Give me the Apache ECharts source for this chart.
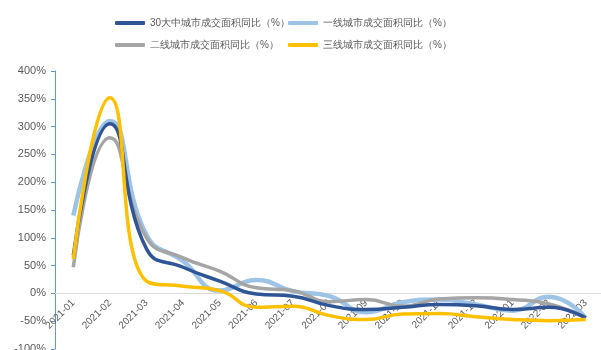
<!DOCTYPE html>
<html>
<head>
<meta charset="utf-8">
<script src="https://cdn.jsdelivr.net/npm/echarts@6/dist/echarts.min.js"></script>
<style>
  html, body { margin: 0; padding: 0; background: #fff; }
  #chart { width: 601px; height: 350px; }
</style>
</head>
<body>
<div id="chart"></div>
<script>
// categories (month)
const months = ['2021-01', '2021-02', '2021-03', '2021-04', '2021-05', '2021-06', '2021-07', '2021-08',
  '2021-09', '2021-10', '2021-11', '2021-12', '2022-01', '2022-02', '2022-03'];

// series values, unit %
const city30 = [68, 305, 80, 47, 22, -1, -5, -22, -29, -25, -20, -22, -29, -25, -44];
const tier1 = [140, 310, 105, 58, 5, 24, 4, -5, -34, -16, -11, -20, -31, -6, -44];
const tier2 = [47, 280, 100, 64, 40, 10, 5, -15, -11, -23, -10, -8, -11, -19, -44];
const tier3 = [62, 352, 22, 13, 5, -25, -23, -40, -47, -37, -36, -42, -47, -49, -47];

const names = ['30大中城市成交面积同比（%）', '一线城市成交面积同比（%）', '二线城市成交面积同比（%）', '三线城市成交面积同比（%）'];
const colors = ['#2F5597', '#9DC3E6', '#A5A5A5', '#FFC000'];

const yMin = -100;
const yMax = 400;
const gridTop = 71;
const gridBottom = 1;
const chartH = 350;

const myChart = echarts.init(document.getElementById('chart'));

// one legend per item so the two columns line up
function legendItem(name, left, top) {
    return {
        data: [name],
        left: left,
        top: top,
        icon: 'roundRect',
        itemWidth: 30,
        itemHeight: 4,
        itemGap: 0,
        textStyle: { color: '#595959', fontSize: 10 },
    };
}

function lineSeries(name, data, color, width, z) {
    return {
        name: name,
        type: 'line',
        data: data,
        smooth: 0.5,
        showSymbol: false,
        symbol: 'none',
        z: z,
        lineStyle: { color: color, width: width },
        itemStyle: { color: color },
    };
}

// x axis sits on the 0% line, labels below it
const plotH = chartH - gridTop - gridBottom;
const zeroOffset = -plotH * (0 - yMin) / (yMax - yMin);

const option = {
    animation: false,
    color: colors,
    legend: [
        legendItem(names[0], 110, 13),
        legendItem(names[1], 283, 13),
        legendItem(names[2], 110, 35),
        legendItem(names[3], 283, 35),
    ],
    grid: {
        left: 55,
        right: -3,
        top: gridTop,
        bottom: gridBottom,
        containLabel: false,
        outerBoundsMode: 'none',
    },
    xAxis: {
        type: 'category',
        data: months,
        boundaryGap: true,
        offset: zeroOffset,
        axisLine: { onZero: false, lineStyle: { color: '#D9D9D9', width: 1 } },
        axisTick: { show: false },
        axisLabel: { rotate: 45, color: '#595959', fontSize: 10, margin: 8, interval: 0 },
        splitLine: { show: false },
    },
    yAxis: {
        type: 'value',
        min: yMin,
        max: yMax,
        interval: 50,
        axisLine: { show: true, lineStyle: { color: '#5B9BD5', width: 1 } },
        axisTick: { show: true, length: 4, lineStyle: { color: '#5B9BD5' } },
        axisLabel: { formatter: '{value}%', color: '#595959', fontSize: 11, margin: 9 },
        splitLine: { show: false },
    },
    series: [
        lineSeries(names[0], city30, colors[0], 3.5, 3),
        lineSeries(names[1], tier1, colors[1], 4.5, 1),
        lineSeries(names[2], tier2, colors[2], 3.5, 2),
        lineSeries(names[3], tier3, colors[3], 3.5, 4),
    ],
};

myChart.setOption(option);
</script>
</body>
</html>
